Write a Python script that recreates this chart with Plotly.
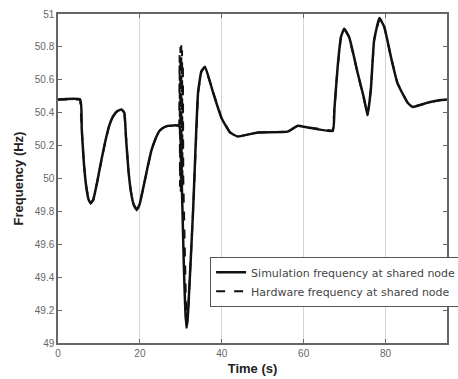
import plotly.graph_objects as go

# Simulated frequency at the shared node (time in s, frequency in Hz)
sim_t = [0, 5.4, 5.8, 6.3, 6.9, 7.5, 8.0, 8.6, 9.5, 10.5, 11.5, 12.5, 13.5, 14.5, 15.5,
         16.2, 16.6, 17.2, 17.8, 18.5, 19.2, 19.9, 20.8, 21.8, 22.8, 23.8, 24.8, 25.8,
         26.8, 29.6, 30.2, 30.7, 31.2, 31.5, 31.8, 33.0, 34.2, 35.0, 35.9, 37.9, 39.9,
         42.0, 43.9, 48.8, 56.1, 58.5, 61.0, 67.1, 67.5, 68.3, 69.1, 69.9, 71.1, 73.2,
         74.8, 75.6, 76.4, 77.2, 78.5, 79.7, 81.3, 82.9, 85.4, 86.6, 90.2, 93.5, 95.0]
sim_f = [50.48, 50.48, 50.30, 50.10, 49.95, 49.87, 49.85, 49.87, 49.97, 50.10, 50.22,
         50.32, 50.38, 50.41, 50.42, 50.40, 50.25, 50.05, 49.92, 49.84, 49.81, 49.84,
         49.94, 50.06, 50.17, 50.24, 50.29, 50.31, 50.32, 50.32, 50.00, 49.50, 49.15,
         49.10, 49.20, 49.81, 50.52, 50.65, 50.68, 50.52, 50.37, 50.28, 50.255, 50.28,
         50.285, 50.32, 50.31, 50.29, 50.42, 50.68, 50.86, 50.91, 50.86, 50.64, 50.48,
         50.385, 50.54, 50.84, 50.975, 50.92, 50.74, 50.58, 50.46, 50.435, 50.46,
         50.477, 50.48]

# Hardware measurement: tracks the simulation except for the fast
# oscillation and deeper dip around the disturbance at t = 30 s
hw_spike_t = [29.6, 29.7, 29.8, 29.9, 30.0, 30.1, 30.2, 30.3, 30.4, 30.5, 30.6,
              31.0, 31.4, 31.8]
hw_spike_f = [50.32, 50.75, 49.95, 50.80, 49.92, 50.81, 49.92, 50.78, 49.95, 50.70,
              50.00, 49.50, 49.07, 49.20]

hw_t = [t for t in sim_t if t < 29.6] + hw_spike_t + [t for t in sim_t if t > 31.8]
hw_f = ([f for t, f in zip(sim_t, sim_f) if t < 29.6] + hw_spike_f
        + [f for t, f in zip(sim_t, sim_f) if t > 31.8])

x_ticks = [0, 20, 40, 60, 80]
y_ticks = [49, 49.2, 49.4, 49.6, 49.8, 50, 50.2, 50.4, 50.6, 50.8, 51]
y_labels = ["49", "49.2", "49.4", "49.6", "49.8", "50", "50.2", "50.4", "50.6",
            "50.8", "51"]

fig = go.Figure()
fig.add_trace(go.Scatter(
    x=sim_t, y=sim_f, mode="lines", name="Simulation frequency at shared node",
    line=dict(color="#111111", width=2.5, shape="spline", smoothing=0.4)))
fig.add_trace(go.Scatter(
    x=hw_t, y=hw_f, mode="lines", name="Hardware frequency at shared node",
    line=dict(color="#111111", width=2, dash="dash")))

axis_common = dict(showline=True, linecolor="#666666", linewidth=1.5, mirror="ticks",
                   ticks="inside", ticklen=4, tickcolor="#666666", zeroline=False,
                   tickfont=dict(family="Arial, Liberation Sans", size=10, color="#666666"))

fig.update_xaxes(range=[0, 95], tickvals=x_ticks, showgrid=True, gridcolor="#d4d4d4",
                 gridwidth=1,
                 title=dict(text="<b>Time (s)</b>", standoff=6,
                            font=dict(family="Arial, Liberation Sans", size=13,
                                      color="#222222")),
                 **axis_common)
fig.update_yaxes(range=[49, 51], tickvals=y_ticks, ticktext=y_labels, showgrid=False,
                 title=dict(text="<b>Frequency (Hz)</b>", standoff=8,
                            font=dict(family="Arial, Liberation Sans", size=13,
                                      color="#222222")),
                 **axis_common)

fig.update_layout(
    width=458, height=379,
    # fixed margins: the legend is allowed to run past the right edge
    margin=dict(l=58, r=11, t=14, b=36, autoexpand=False),
    plot_bgcolor="white", paper_bgcolor="white",
    showlegend=True,
    legend=dict(x=0.391, y=0.262, xanchor="left", yanchor="top",
                bgcolor="white", bordercolor="#555555", borderwidth=1,
                itemwidth=30, tracegroupgap=0,
                font=dict(family="DejaVu Sans", size=11, color="#444444")),
)

fig.write_html("out.html")
